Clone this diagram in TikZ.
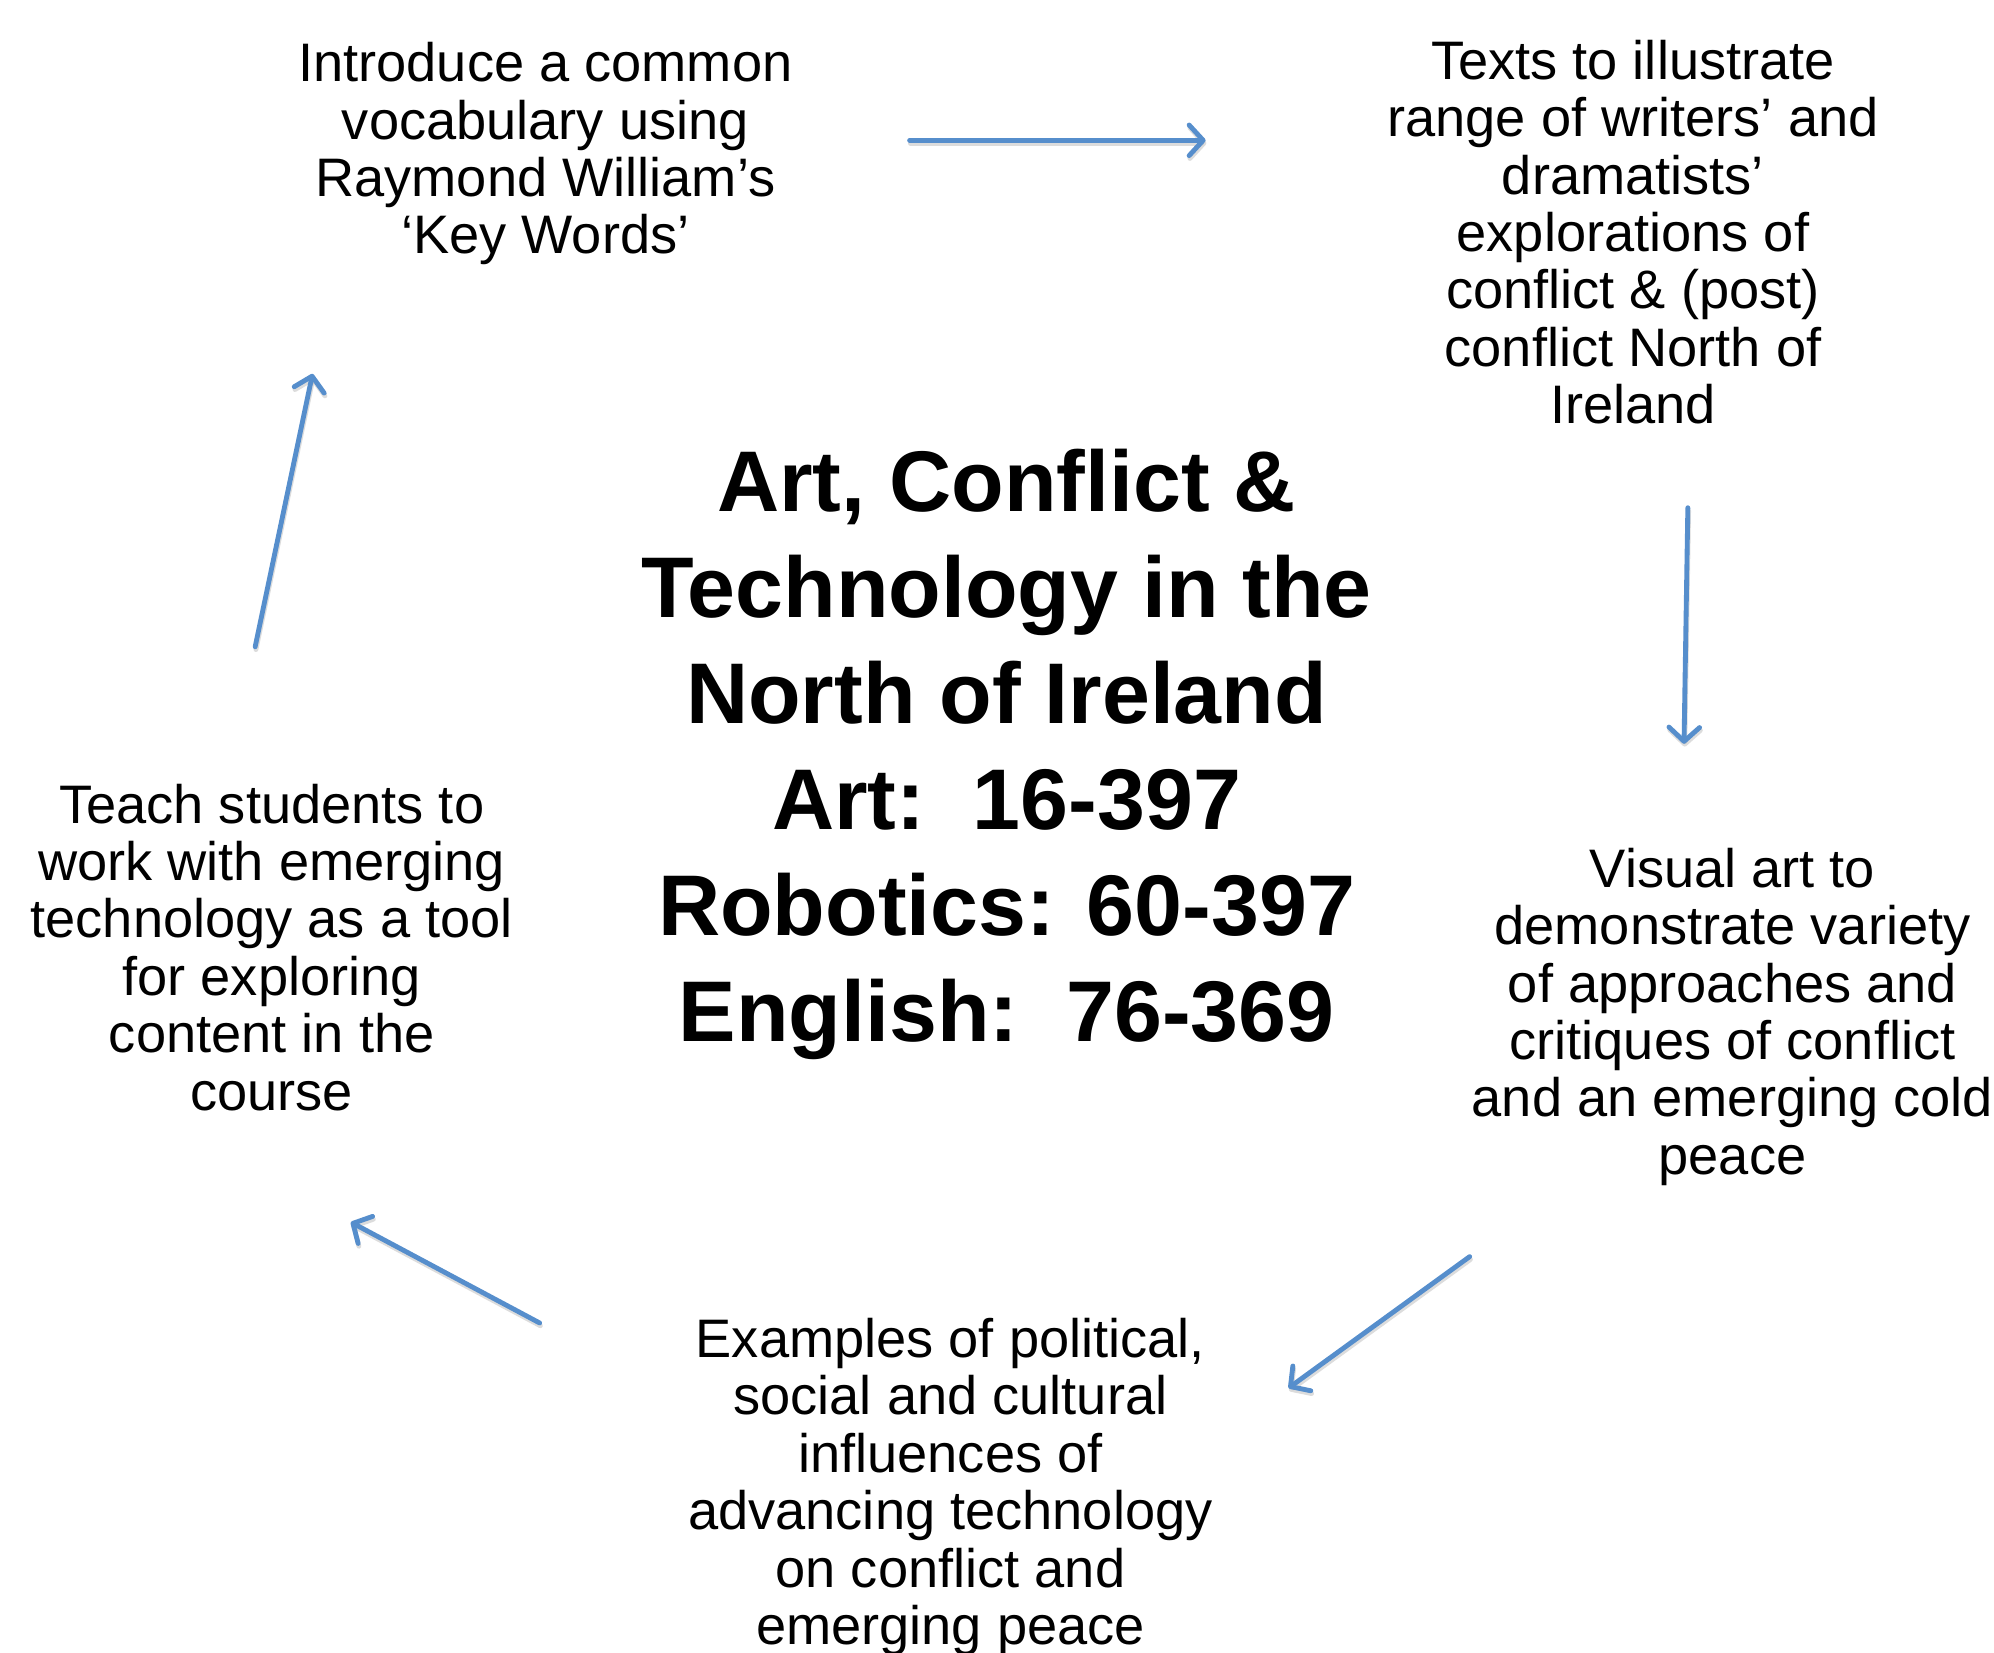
\documentclass[tikz,border=0pt]{standalone}
\usepackage{fontspec}
\setmainfont{Liberation Sans}
\usetikzlibrary{arrows.meta}
\definecolor{arrowblue}{RGB}{86,142,204}
\begin{document}
\begin{tikzpicture}[x=1pt,y=-1pt,
  body/.style={align=center,font=\fontsize{42.5}{45}\selectfont,inner sep=0pt},
  titletext/.style={align=center,font=\bfseries\fontsize{67.5}{83}\selectfont,inner sep=0pt},
  flow/.style={draw=arrowblue,line width=3.8pt,line cap=round,
    -{Straight Barb[length=11pt,width=24pt,round]}},
  flowshadow/.style={draw=black!30,opacity=0.45,line width=3.8pt,line cap=round,
    transform canvas={xshift=0.6pt,yshift=-2.2pt},
    -{Straight Barb[length=11pt,width=24pt,round]}}]
\useasboundingbox (0,0) rectangle (1563,1295);
\node[body] (tl) at (427.5,120.5) {Introduce a common\\vocabulary using\\Raymond William’s\\‘Key Words’};
\node[body] (tr) at (1280,182) {Texts to illustrate\\range of writers’ and\\dramatists’\\explorations of\\conflict \& (post)\\conflict North of\\Ireland};
\node[body] (r) at (1358,797) {Visual art to\\demonstrate variety\\of approaches and\\critiques of conflict\\and an emerging cold\\peace};
\node[body] (b) at (745,1165.5) {Examples of political,\\social and cultural\\influences of\\advancing technology\\on conflict and\\emerging peace};
\node[body] (l) at (213,742.5) {Teach students to\\work with emerging\\technology as a tool\\for exploring\\content in the\\course};
\node[titletext] (t) at (789,591.5) {Art, Conflict \&\\Technology in the\\North of Ireland\\Art:\ \ 16-397\\Robotics: 60-397\\English:\ \ 76-369};
\coordinate (a1s) at (713,110);
\coordinate (a1e) at (945,110);
\coordinate (a2s) at (1323,398);
\coordinate (a2e) at (1320,583);
\coordinate (a3s) at (1152,985);
\coordinate (a3e) at (1010,1088);
\coordinate (a4s) at (423,1037);
\coordinate (a4e) at (275,958);
\coordinate (a5s) at (200,507);
\coordinate (a5e) at (245,293);
\draw[flowshadow] (a1s) -- (a1e);
\draw[flowshadow] (a2s) -- (a2e);
\draw[flowshadow] (a3s) -- (a3e);
\draw[flowshadow] (a4s) -- (a4e);
\draw[flowshadow] (a5s) -- (a5e);
\draw[flow] (a1s) -- (a1e);
\draw[flow] (a2s) -- (a2e);
\draw[flow] (a3s) -- (a3e);
\draw[flow] (a4s) -- (a4e);
\draw[flow] (a5s) -- (a5e);
\end{tikzpicture}
\end{document}
